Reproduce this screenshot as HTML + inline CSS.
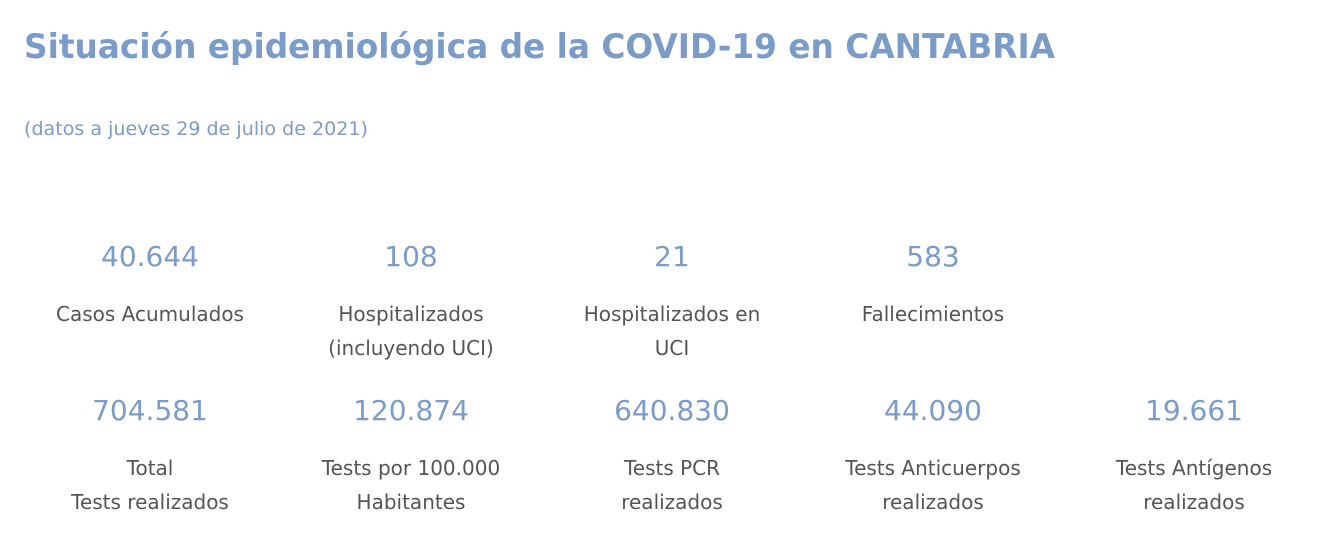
<!DOCTYPE html>
<html><head><meta charset="utf-8"><style>
html,body{margin:0;padding:0;background:#fff;}
svg{display:block;font-family:"DejaVu Sans","Liberation Sans",sans-serif;}
.num{fill:#7b9cc9;font-size:28px;text-anchor:middle;}
.lab{fill:#555;font-size:20px;text-anchor:middle;}
</style></head><body>
<svg width="1338" height="546">
<text x="24" y="58" font-size="34" font-weight="bold" fill="#7b9cc9" textLength="1031" lengthAdjust="spacingAndGlyphs">Situación epidemiológica de la COVID-19 en CANTABRIA</text>
<text x="24" y="135" font-size="19" fill="#7b9cc9" textLength="344" lengthAdjust="spacingAndGlyphs">(datos a jueves 29 de julio de 2021)</text>
<g id="kpis"></g>
</svg>
<script>
const values=["40.644","108","21","583","704.581","120.874","640.830","44.090","19.661"];
const labels=[["Casos Acumulados"],["Hospitalizados","(incluyendo UCI)"],["Hospitalizados en","UCI"],["Fallecimientos"],["Total","Tests realizados"],["Tests por 100.000","Habitantes"],["Tests PCR","realizados"],["Tests Anticuerpos","realizados"],["Tests Antígenos","realizados"]];
const names=["casos-acumulados","hospitalizados","hospitalizados-uci","fallecimientos","total-tests","tests-por-100000","tests-pcr","tests-anticuerpos","tests-antigenos"];
const g=document.getElementById('kpis');
const NS="http://www.w3.org/2000/svg";
for(let i=0;i<values.length;i++){
  const row=i<4?0:1, col=i<4?i:i-4;
  const cx=150+261*col, by=266+154*row;
  const grp=document.createElementNS(NS,'g');
  
  
  const t=document.createElementNS(NS,'text');
  t.setAttribute('x',cx);t.setAttribute('y',by);t.setAttribute('class','num');
  
  
  t.textContent=values[i];grp.appendChild(t);
  labels[i].forEach((l,k)=>{
    const lt=document.createElementNS(NS,'text');
    lt.setAttribute('x',cx);lt.setAttribute('y',by+55+34*k);lt.setAttribute('class','lab');
    
    
    lt.textContent=l;grp.appendChild(lt);
  });
  g.appendChild(grp);
}
</script>
</body></html>
